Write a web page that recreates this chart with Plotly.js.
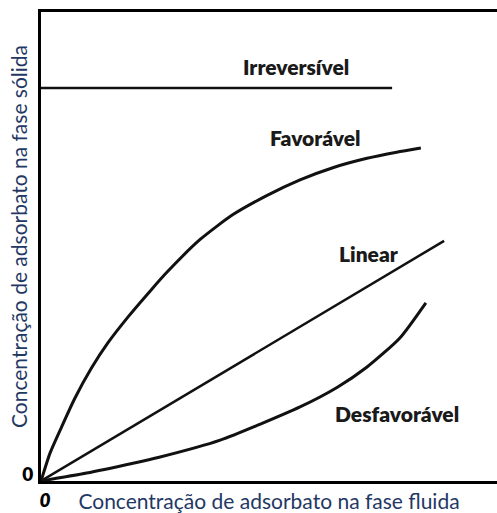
<!DOCTYPE html>
<html>
<head>
<meta charset="utf-8">
<script src="https://cdn.plot.ly/plotly-3.0.1.min.js"></script>
<style>html,body{margin:0;padding:0;background:#fff;}#chart{width:497px;height:513px;}</style>
</head>
<body>
<div id="chart"></div>
<script>
// Fluid-phase concentration (x) and solid-phase concentration (y), arbitrary units
const irrevX = [0, 7.70];
const irrevY = [8.38, 8.38];

const favX = [0, 0.20, 0.45, 0.74, 1.10, 1.47, 1.91, 2.42, 2.76, 3.49, 4.21, 4.96, 5.68, 6.40, 7.15, 7.80, 8.33];
const favY = [0, 0.60, 1.15, 1.76, 2.40, 2.95, 3.50, 4.08, 4.45, 5.15, 5.68, 6.09, 6.42, 6.68, 6.88, 7.01, 7.10];

const linX = [0, 2.57, 8.84];
const linY = [0, 1.49, 5.12];

const desX = [0, 1.00, 2.02, 2.57, 3.93, 5.68, 6.50, 7.15, 7.87, 8.44];
const desY = [0, 0.17, 0.38, 0.50, 0.87, 1.58, 2.00, 2.43, 3.05, 3.80];

const labelText = ['Irreversível', 'Favorável', 'Linear', 'Desfavorável'];
const labelX = [5.59, 6.01, 7.19, 7.81];
const labelY = [8.83, 7.33, 4.86, 1.45];

const tickVals = [0];
const tickText = ['0'];

const xTitle = 'Concentração de adsorbato na fase fluida';
const yTitle = 'Concentração de adsorbato na fase sólida';

const traces = [
  {x: irrevX, y: irrevY, mode: 'lines', line: {color: '#111', width: 2.5}, name: labelText[0]},
  {x: favX, y: favY, mode: 'lines', line: {color: '#111', width: 3, shape: 'spline', smoothing: 0.6}, name: labelText[1]},
  {x: linX, y: linY, mode: 'lines', line: {color: '#111', width: 2.5}, name: labelText[2]},
  {x: desX, y: desY, mode: 'lines', line: {color: '#111', width: 3, shape: 'spline', smoothing: 0.6}, name: labelText[3]}
];

const annotations = labelText.map((t, i) => ({
  x: labelX[i], y: labelY[i], xref: 'x', yref: 'y', text: t, showarrow: false,
  font: {family: 'Lato', size: 21, weight: 800, color: '#1a1a1a'}
}));
annotations.push({
  x: (18 - 41) / 456, y: (481 - 237) / 469, xref: 'paper', yref: 'paper',
  xanchor: 'center', yanchor: 'middle',
  text: yTitle, showarrow: false, textangle: -90,
  font: {family: 'Lato', size: 21, color: '#1f3864'}
});

const layout = {
  width: 497, height: 513,
  margin: {l: 41, r: 0, t: 12, b: 32},
  paper_bgcolor: '#fff', plot_bgcolor: '#fff',
  showlegend: false,
  xaxis: {
    range: [0, 10], showgrid: false, zeroline: false,
    showline: true, linecolor: '#000', linewidth: 3, mirror: true,
    tickvals: tickVals, ticktext: tickText, ticks: '',
    tickfont: {family: 'Lato', size: 19, weight: 800, style: 'italic', color: '#000'},
    ticklabelstandoff: 0, ticklabelshift: 4,
    title: {text: xTitle, font: {family: 'Lato', size: 21, color: '#1f3864'}, standoff: 3}
  },
  yaxis: {
    range: [0, 10], showgrid: false, zeroline: false,
    showline: true, linecolor: '#000', linewidth: 3,
    tickvals: tickVals, ticktext: tickText, ticks: '',
    tickfont: {family: 'Lato', size: 19, weight: 800, color: '#000'},
    ticklabelstandoff: 1, ticklabelshift: -7
  },
  annotations: annotations
};

Plotly.newPlot('chart', traces, layout, {displayModeBar: false, staticPlot: true});
</script>
</body>
</html>
